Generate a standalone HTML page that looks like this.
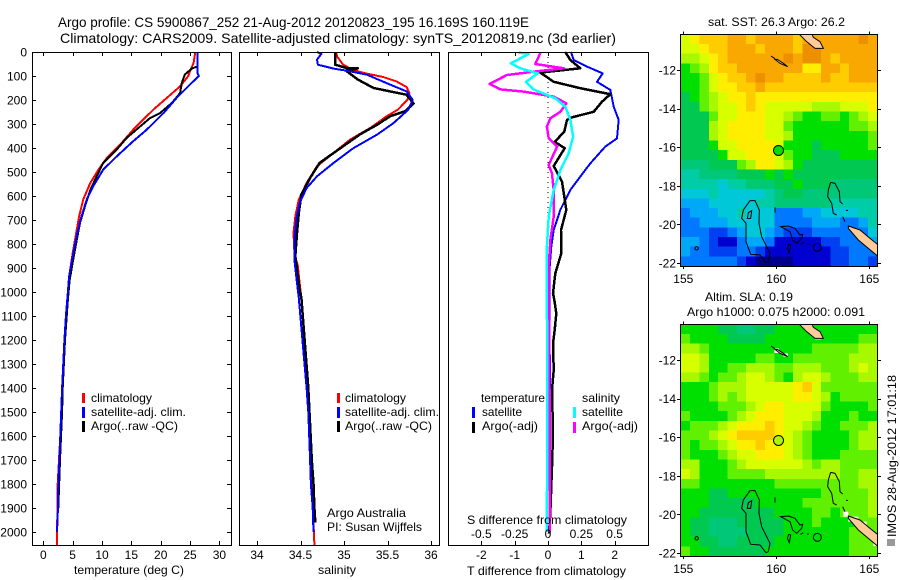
<!DOCTYPE html>
<html lang="en">
<head>
<meta charset="utf-8">
<title>Argo profile 5900867_252</title>
<style>
html,body{margin:0;padding:0;background:#fff;}
#figure{display:block;width:900px;height:580px;}
text{font-family:"Liberation Sans",sans-serif;font-size:12px;fill:#000;}
.frame{fill:none;stroke:#000;stroke-width:1;shape-rendering:crispEdges;}
.series{fill:none;stroke-linejoin:round;stroke-linecap:butt;shape-rendering:crispEdges;}
.tick{stroke:#000;stroke-width:1;shape-rendering:crispEdges;}
.key{shape-rendering:crispEdges;}
.title{font-size:14px;}
</style>
</head>
<body>
<svg id="figure" xmlns="http://www.w3.org/2000/svg" width="900" height="580" viewBox="0 0 900 580">
  <defs>
    <clipPath id="map-clip"><rect x="62" y="103" width="590" height="695"/></clipPath>
    <g id="coast" clip-path="url(#map-clip)" fill="none" stroke="#000" stroke-width="3">
      <path fill="#ffcc99" d="M415 100L440 125L465 145L490 145L480 125L460 112L455 100Z"/>
      <path fill="#ffcc99" d="M345 178L360 190L383 200L370 190L352 178Z"/>
      <path d="M333 168L345 176"/>
      <path d="M270 602L285 602L298 630L297 670L305 710L330 760L325 785L318 788L300 765L272 763L258 725L258 670L245 655L250 630Z"/>
      <path d="M265 638L275 632L272 655L262 655Z"/>
      <path d="M345 622L345 638"/>
      <path d="M362 680L385 678L405 685L420 705L428 703L425 715L410 730L398 720L390 695Z"/>
      <path d="M386 733L392 735L388 758L382 745Z"/>
      <path d="M422 733L430 728M441 732L446 732"/>
      <circle cx="472" cy="742" r="12"/>
      <path d="M512 547L525 550L538 575L540 605L548 612"/>
      <path d="M512 547L505 570L503 590L515 610L520 640L530 645"/>
      <path d="M558 631L564 631M548 650L555 665"/>
      <path fill="#ffcc99" d="M565 678L600 690L630 715L655 735L655 770L625 745L595 720L565 685Z"/>
      <circle cx="110" cy="745" r="5"/>
    </g>
  </defs>
  <rect x="0" y="0" width="900" height="580" fill="#fff"/>

  <text class="title" x="58" y="27" textLength="471" lengthAdjust="spacingAndGlyphs">Argo profile: CS 5900867_252 21-Aug-2012 20120823_195 16.169S 160.119E</text>
  <text class="title" x="60" y="43" textLength="556" lengthAdjust="spacingAndGlyphs">Climatology: CARS2009. Satellite-adjusted climatology: synTS_20120819.nc (3d earlier)</text>

  <g id="panel-temp"></g>
  <g id="panel-sal"></g>
  <g id="panel-diff"></g>
  <g id="map-sst"></g>
  <g id="map-sla"></g>

  <g>
    <rect class="key" x="82" y="393" width="3" height="10" fill="#f00"/>
    <rect class="key" x="82" y="407" width="3" height="11" fill="#00f"/>
    <rect class="key" x="82" y="421" width="3" height="11" fill="#000"/>
    <text x="91" y="402" textLength="61" lengthAdjust="spacingAndGlyphs">climatology</text>
    <text x="91" y="416" textLength="95" lengthAdjust="spacingAndGlyphs">satellite-adj. clim.</text>
    <text x="91" y="430" textLength="87" lengthAdjust="spacingAndGlyphs">Argo(..raw -QC)</text>
  </g>
  <g>
    <rect class="key" x="337" y="393" width="3" height="10" fill="#f00"/>
    <rect class="key" x="337" y="407" width="3" height="11" fill="#00f"/>
    <rect class="key" x="337" y="421" width="3" height="11" fill="#000"/>
    <text x="345" y="402" textLength="61" lengthAdjust="spacingAndGlyphs">climatology</text>
    <text x="345" y="416" textLength="94" lengthAdjust="spacingAndGlyphs">satellite-adj. clim.</text>
    <text x="345" y="430" textLength="87" lengthAdjust="spacingAndGlyphs">Argo(..raw -QC)</text>
    <text x="327" y="517" textLength="79" lengthAdjust="spacingAndGlyphs">Argo Australia</text>
    <text x="327" y="531" textLength="95" lengthAdjust="spacingAndGlyphs">PI: Susan Wijffels</text>
  </g>
  <g>
    <text x="481" y="402" textLength="64" lengthAdjust="spacingAndGlyphs">temperature</text>
    <rect class="key" x="472" y="407" width="3" height="11" fill="#00f"/>
    <rect class="key" x="472" y="422" width="3" height="11" fill="#000"/>
    <text x="482" y="416" textLength="40" lengthAdjust="spacingAndGlyphs">satellite</text>
    <text x="482" y="430" textLength="56" lengthAdjust="spacingAndGlyphs">Argo(-adj)</text>
    <text x="582" y="402" textLength="38" lengthAdjust="spacingAndGlyphs">salinity</text>
    <rect class="key" x="573" y="407" width="3" height="11" fill="#0ff"/>
    <rect class="key" x="573" y="422" width="3" height="11" fill="#f0f"/>
    <text x="582" y="416" textLength="41" lengthAdjust="spacingAndGlyphs">satellite</text>
    <text x="582" y="430" textLength="56" lengthAdjust="spacingAndGlyphs">Argo(-adj)</text>
  </g>

  <text x="74" y="574" textLength="110" lengthAdjust="spacingAndGlyphs">temperature (deg C)</text>
  <text x="318" y="574" textLength="38" lengthAdjust="spacingAndGlyphs">salinity</text>
  <text x="467" y="524" textLength="160" lengthAdjust="spacingAndGlyphs">S difference from climatology</text>
  <text x="467" y="575" textLength="159" lengthAdjust="spacingAndGlyphs">T difference from climatology</text>

  <text x="708" y="26" textLength="137" lengthAdjust="spacingAndGlyphs">sat. SST: 26.3 Argo: 26.2</text>
  <text x="705" y="301" textLength="88" lengthAdjust="spacingAndGlyphs">Altim. SLA: 0.19</text>
  <text x="687" y="316" textLength="178" lengthAdjust="spacingAndGlyphs">Argo h1000: 0.075 h2000: 0.091</text>

  <rect x="887" y="539" width="8" height="7" fill="#999"/>
  <text transform="translate(896,537) rotate(-90)" x="0" y="0" textLength="162" lengthAdjust="spacingAndGlyphs">IMOS 28-Aug-2012 17:01:18</text>
</svg>

<script>
// ---- depth axis ----
const depthTicks = [0,100,200,300,400,500,600,700,800,900,1000,1100,1200,1300,1400,1500,1600,1700,1800,1900,2000];

// ---- temperature panel ----
const tempTicks = [0,5,10,15,20,25,30];
const tempClimDepth = [0,46,74,100,143,192,240,282,324,386,442,490,546,615,685,754,837,921,1025,1200,1400,1600,1800,2000,2054];
const tempClimValue = [25.9,25.6,25.1,24.7,23.3,21.0,18.75,17.0,15.3,13.1,10.8,9.4,8.0,6.8,6.1,5.6,5.0,4.5,4.1,3.6,3.2,2.9,2.45,2.35,2.35];
const tempArgoDepth = [0,60,69,94,129,171,212,254,275,310,358,407,462,518,574,643,712,782,865,949,1025,1200,1400,1500,1700,1900];
const tempArgoValue = [26.25,26.25,25.3,24.1,23.6,23.3,21.9,19.9,18.2,16.5,14.2,12.5,10.2,9.1,8.0,7.1,6.25,5.7,5.1,4.5,4.2,3.7,3.3,3.2,2.85,2.55];
const tempSatDepth = [0,88,99,150,192,254,324,372,435,490,560,615,685,754,851,935,1025,1100,1200,1300,1400,1500,1600,1700,1800,1900,1950,2000];
const tempSatValue = [26.25,26.25,26.5,24.4,22.7,20.5,17.6,15.3,12.5,10.2,8.5,7.4,6.5,5.8,5.0,4.4,4.1,3.85,3.6,3.4,3.2,3.05,2.9,2.75,2.55,2.5,2.4,2.35];

// ---- salinity panel ----
const salTicks = [34,34.5,35,35.5,36];
const salTickLabels = ['34','34.5','35','35.5','36'];
const salClimDepth = [0,18,53,76,90,104,122,146,171,199,240,268,317,365,421,476,546,615,685,754,837,893,962,1025,1400,1700,2054];
const salClimValue = [34.91,34.92,34.99,35.11,35.26,35.45,35.6,35.72,35.75,35.73,35.62,35.49,35.3,35.07,34.88,34.69,34.57,34.48,34.44,34.42,34.43,34.47,34.49,34.51,34.58,34.62,34.66];
const salArgoDepth = [0,53,67,68,80,115,150,164,178,215,247,268,303,344,393,462,525,594,671,754,851,935,990,1025,1400,1700,1800,1900,1960];
const salArgoValue = [34.9,34.9,35.03,35.16,35.03,35.16,35.34,35.53,35.72,35.8,35.7,35.53,35.38,35.18,34.99,34.72,34.61,34.51,34.48,34.46,34.44,34.47,34.49,34.51,34.59,34.63,34.65,34.66,34.67];
const salSatDepth = [0,8,32,53,69,78,94,136,164,199,240,296,344,400,462,518,567,629,699,782,865,962,1025,1400,1500,1600,1700,1800,1900,2000];
const salSatValue = [34.69,34.74,34.69,34.7,34.88,35.03,35.26,35.53,35.72,35.79,35.74,35.57,35.38,35.11,34.88,34.69,34.57,34.49,34.45,34.43,34.43,34.46,34.48,34.57,34.59,34.6,34.61,34.62,34.64,34.65];

// ---- difference panel ----
const tDiffTicks = [-2,-1,0,1,2];
const sDiffTicks = [-0.5,-0.25,0,0.25,0.5];
const sDiffLabels = ['-0.5','-0.25','0','0.25','0.5'];
const diffTSatDepth = [0,33,61,89,124,158,228,283,360,394,464,519,575,658,742,811,894,1005,1400,2000];
const diffTSatValue = [0.69,0.77,1.17,1.64,1.47,1.87,1.97,2.12,2.07,1.72,1.27,0.97,0.67,0.37,0.17,0.1,0.05,0.04,0.06,0.05];
const diffTArgoDepth = [0,33,68,86,124,151,176,207,249,272,283,332,374,401,475,540,658,742,839,922,1005,1033,1089,1158,1214,1325,1408,1589,1728,1922,2006];
const diffTArgoValue = [0.52,0.67,0.97,-0.23,0.17,0.97,1.87,1.62,1.37,0.72,0.57,0.49,0.2,0.5,0.17,0.42,0.55,0.39,0.4,0.22,0.15,0.19,0.25,0.2,0.15,0.17,0.12,0.15,0.12,0.07,0.03];
const diffSArgoDepth = [5,50,68,82,96,133,156,165,186,214,249,276,311,360,394,471,506,575,686,783,894,1033,1200,1500,2000];
const diffSArgoValue = [-0.058,-0.095,0.118,-0.108,-0.308,-0.438,-0.358,-0.183,0.043,0.138,0.093,0.018,-0.008,0.005,0.068,0.005,0.03,0.043,0.043,0.018,0.005,0.005,0.01,0.012,0.012];
const diffSSatDepth = [3,8,47,68,89,124,156,193,228,283,353,422,492,575,686,811,1033,1500,1900,2000];
const diffSSatValue = [-0.22,-0.145,-0.278,-0.208,-0.078,-0.165,-0.108,0.055,0.13,0.168,0.188,0.155,0.093,0.043,0.005,-0.008,-0.008,-0.004,-0.008,-0.008];

// ---- maps ----
const lonTicks = [155,160,165];
const latTicks = [-12,-14,-16,-18,-20,-22];
const floatLon = 160.119;
const floatLat = -16.169;
const sstFloatLevel = 9;
const slaFloatLevel = 11;
const paletteLevels = ['#00008c','#0000d0','#0040f0','#0078ff','#00a8f8','#00c8d8','#00cca8','#00c878','#00c850','#00e000','#60f000','#a8f800','#d8ff00','#ffee00','#ffcc00','#f8a800','#ec9000'];
const sstGrid = [
[12,13,14,14,14,15,15,14,15,15,15,15,14,15,15,15,15,15,15,16,15],
[12,12,13,14,14,15,15,15,14,15,15,15,14,16,16,15,15,15,15,15,15],
[11,11,12,13,14,15,15,15,15,15,15,16,15,16,16,15,14,15,15,15,15],
[9,10,11,13,14,14,15,15,15,15,15,15,15,13,13,15,15,14,15,15,15],
[9,9,10,12,13,14,14,15,16,15,15,14,14,14,14,15,14,14,15,15,15],
[9,9,10,12,13,13,14,14,15,14,14,14,14,14,14,14,14,14,14,14,14],
[8,9,10,11,12,13,13,14,13,13,13,13,13,13,13,13,13,13,13,13,13],
[8,8,10,11,12,12,13,14,13,12,12,12,12,12,11,11,11,12,12,12,13],
[8,8,8,10,12,12,13,13,13,12,12,11,10,9,9,10,10,9,10,11,12],
[8,8,8,11,12,13,13,13,13,12,12,10,9,9,9,9,9,9,10,10,11],
[8,8,8,11,12,13,13,13,13,12,12,11,9,9,9,9,9,9,9,9,10],
[8,8,8,9,12,12,13,13,13,13,12,9,9,9,8,9,9,9,9,9,10],
[8,8,8,8,9,12,12,13,13,13,12,10,9,9,8,8,8,9,9,9,9],
[7,7,7,8,8,8,10,11,13,13,12,11,9,8,8,8,8,8,8,8,8],
[6,6,7,7,7,7,8,8,8,9,8,9,8,8,8,8,8,8,8,8,8],
[6,6,6,6,5,6,6,7,7,7,8,8,9,8,8,8,7,7,7,7,7],
[5,5,5,6,5,5,5,5,5,6,7,8,8,7,7,7,7,7,7,7,7],
[4,4,4,5,5,5,5,5,6,6,7,7,7,7,7,7,6,6,6,6,6],
[3,4,4,4,5,5,6,5,5,5,3,3,3,4,4,5,5,5,5,6,6],
[3,3,4,4,4,5,5,5,5,5,3,3,3,3,4,4,4,3,3,4,6],
[3,3,3,2,2,3,4,5,5,4,3,2,2,2,3,3,3,3,3,3,5],
[4,4,3,2,1,1,3,4,4,3,1,1,1,1,1,2,2,3,3,3,4],
[4,3,3,2,2,2,3,3,2,1,1,1,1,1,1,1,2,2,3,3,3],
[3,3,3,3,3,3,2,1,0,0,0,0,1,1,1,1,2,2,3,3,2]
];
const slaGrid = [
[9,9,9,9,8,8,7,7,8,8,9,9,9,9,9,9,9,9,9,9,9],
[10,9,9,9,9,8,8,8,8,9,9,9,9,9,9,9,9,9,9,10,10],
[11,11,10,9,9,9,9,9,9,9,9,9,9,9,10,10,10,10,10,11,11],
[12,12,11,9,9,9,9,9,10,10,9,9,10,10,10,10,10,10,11,11,11],
[12,12,11,9,9,10,10,11,11,11,10,10,11,11,11,10,10,10,11,12,11],
[11,11,10,9,10,10,11,12,12,11,10,9,11,12,12,11,10,10,10,11,11],
[9,9,9,10,11,11,11,12,12,12,12,12,13,14,12,10,10,10,10,10,10],
[9,9,9,10,11,10,11,12,12,12,12,12,13,13,12,11,9,10,10,10,10],
[9,9,9,9,10,10,10,11,12,13,13,12,12,12,12,10,9,9,9,9,10],
[10,9,9,9,9,10,11,12,13,13,13,12,12,12,11,9,9,9,10,9,9],
[9,10,10,10,11,12,13,13,13,14,13,12,12,11,10,9,9,10,10,10,11],
[10,10,10,11,12,13,14,14,14,14,13,12,11,10,9,9,9,9,10,11,11],
[10,9,10,10,11,12,13,13,14,13,13,12,11,10,9,9,9,9,10,11,11],
[10,9,9,9,10,11,12,12,13,13,13,12,11,10,9,9,9,10,10,10,10],
[11,11,9,9,9,10,11,12,12,12,12,12,12,11,10,11,11,10,10,10,10],
[12,11,9,9,9,10,10,10,10,11,11,11,11,11,11,11,11,10,10,11,11],
[10,10,9,9,9,9,9,9,9,9,10,10,10,10,10,10,10,10,10,11,11],
[9,9,9,8,8,9,9,9,9,9,9,9,9,9,9,10,10,10,10,10,11],
[9,9,9,8,8,8,8,8,9,9,9,9,9,10,10,10,10,10,10,10,11],
[9,9,8,8,8,8,8,8,8,8,9,9,9,9,10,10,9,10,10,10,11],
[9,8,8,7,7,7,8,8,8,8,8,9,9,9,10,9,9,9,9,10,10],
[9,8,8,7,7,7,7,8,8,8,8,9,9,9,9,9,9,9,10,10,10],
[9,9,8,8,7,7,8,8,8,8,9,9,9,9,9,9,9,9,10,10,10],
[10,9,9,8,8,8,8,8,8,9,9,9,9,9,9,9,9,9,10,10,10]
];

const NS = 'http://www.w3.org/2000/svg';
const PANEL_TOP = 52, PANEL_BOTTOM = 545;
const yDepth = d => PANEL_TOP + 0.24 * d;
const xTemp = v => 43.3 + 5.87 * v;
const xSal = v => 257 + 87 * (v - 34);
const xDiffT = v => 548 + 33.33 * v;
const xDiffS = v => 548 + 133.3 * v;

function node(tag, parent) {
  const el = document.createElementNS(NS, tag);
  parent.appendChild(el);
  return el;
}

function drawFrame(parent, x, y, w, h) {
  const el = node('rect', parent);
  
  
  el.setAttribute('class', 'frame');
  el.setAttribute('x', x);
  el.setAttribute('y', y);
  el.setAttribute('width', w);
  el.setAttribute('height', h);
}

function drawTick(parent, x1, y1, x2, y2) {
  const el = node('line', parent);
  
  
  el.setAttribute('class', 'tick');
  el.setAttribute('x1', x1);
  el.setAttribute('y1', y1);
  el.setAttribute('x2', x2);
  el.setAttribute('y2', y2);
}

function drawLabel(parent, x, y, anchor, content) {
  const el = node('text', parent);
  
  
  el.setAttribute('x', x);
  el.setAttribute('y', y);
  el.setAttribute('text-anchor', anchor);
  el.textContent = content;
}

function drawSeries(parent, name, xScale, values, depths, color, width) {
  const el = node('polyline', parent);
  
  
  el.setAttribute('class', 'series');
  el.setAttribute('stroke', color);
  el.setAttribute('stroke-width', width);
  el.setAttribute('points', values.map((v, i) => xScale(v).toFixed(1) + ',' + yDepth(depths[i]).toFixed(1)).join(' '));
}

function drawXTicks(parent, scale, ticks) {
  ticks.forEach(t => {
    const x = Math.round(scale(t)) + 0.5;
    drawTick(parent, x, PANEL_TOP, x, PANEL_TOP + 4);
    drawTick(parent, x, PANEL_BOTTOM, x, PANEL_BOTTOM - 4);
  });
}

// Temperature panel
const pTemp = document.getElementById('panel-temp');
drawSeries(pTemp, 'temperature-climatology-line', xTemp, tempClimValue, tempClimDepth, '#f00', 2);
drawSeries(pTemp, 'temperature-argo-line', xTemp, tempArgoValue, tempArgoDepth, '#000', 2);
drawSeries(pTemp, 'temperature-satellite-line', xTemp, tempSatValue, tempSatDepth, '#00f', 2);
drawFrame(pTemp, 32.5, 52.5, 199, 493);
drawXTicks(pTemp, xTemp, tempTicks);
tempTicks.forEach(t => drawLabel(pTemp, xTemp(t), 559, 'middle', String(t)));
depthTicks.forEach(d => {
  const y = Math.round(yDepth(d)) + 0.5;
  drawTick(pTemp, 32, y, 36, y);
  drawTick(pTemp, 231, y, 227, y);
  drawLabel(pTemp, 27, yDepth(d) + 4.5, 'end', String(d));
});

// Salinity panel
const pSal = document.getElementById('panel-sal');
drawSeries(pSal, 'salinity-climatology-line', xSal, salClimValue, salClimDepth, '#f00', 2);
drawSeries(pSal, 'salinity-argo-line', xSal, salArgoValue, salArgoDepth, '#000', 2.5);
drawSeries(pSal, 'salinity-satellite-line', xSal, salSatValue, salSatDepth, '#00f', 2);
drawFrame(pSal, 239.5, 52.5, 200, 493);
drawXTicks(pSal, xSal, salTicks);
salTicks.forEach((t, i) => drawLabel(pSal, xSal(t), 559, 'middle', salTickLabels[i]));

// Difference panel
const pDiff = document.getElementById('panel-diff');
const zeroLine = node('line', pDiff);


zeroLine.setAttribute('x1', xDiffT(0));
zeroLine.setAttribute('x2', xDiffT(0));
zeroLine.setAttribute('y1', yDepth(0));
zeroLine.setAttribute('y2', yDepth(700));
zeroLine.setAttribute('stroke', '#000');
zeroLine.setAttribute('stroke-width', 1);
zeroLine.setAttribute('stroke-dasharray', '1 4');
drawSeries(pDiff, 't-difference-satellite-line', xDiffT, diffTSatValue, diffTSatDepth, '#00f', 2);
drawSeries(pDiff, 't-difference-argo-line', xDiffT, diffTArgoValue, diffTArgoDepth, '#000', 2.5);
drawSeries(pDiff, 's-difference-argo-line', xDiffS, diffSArgoValue, diffSArgoDepth, '#f0f', 2.5);
drawSeries(pDiff, 's-difference-satellite-line', xDiffS, diffSSatValue, diffSSatDepth, '#0ff', 2.5);
drawFrame(pDiff, 448.5, 52.5, 200, 493);
drawXTicks(pDiff, xDiffT, tDiffTicks);
tDiffTicks.forEach(t => drawLabel(pDiff, xDiffT(t), 559, 'middle', String(t)));
sDiffTicks.forEach((t, i) => drawLabel(pDiff, xDiffS(t), 538, 'middle', sDiffLabels[i]));

// Maps
function drawMap(group, grid, dy, floatLevel, whiteCells) {
  const X0 = 680.7, X1 = 877.3, Y0 = 34.3 + dy, Y1 = 266 + dy;
  const cw = (X1 - X0) / grid[0].length, ch = (Y1 - Y0) / grid.length;
  const xLon = lon => 683.3 + 18.6 * (lon - 155);
  const yLat = lat => 70 + dy + 19.3 * (-12 - lat);
  grid.forEach((row, r) => row.forEach((level, c) => {
    const cell = node('rect', group);
    
    
    cell.setAttribute('x', (X0 + c * cw).toFixed(2));
    cell.setAttribute('y', (Y0 + r * ch).toFixed(2));
    cell.setAttribute('width', (cw + 0.6).toFixed(2));
    cell.setAttribute('height', (ch + 0.6).toFixed(2));
    cell.setAttribute('fill', paletteLevels[level]);
    cell.setAttribute('shape-rendering', 'crispEdges');
  }));
  const overlay = node('g', group);
  
  
  overlay.setAttribute('transform', 'translate(660,' + dy + ') scale(0.33333)');
  whiteCells.forEach(w => {
    const patch = node('rect', overlay);
    
    
    patch.setAttribute('x', w[0]);
    patch.setAttribute('y', w[1]);
    patch.setAttribute('width', w[2]);
    patch.setAttribute('height', w[3]);
    patch.setAttribute('fill', '#fff');
  });
  const coast = node('use', overlay);
  
  
  coast.setAttribute('href', '#coast');
  const marker = node('circle', group);
  
  
  marker.setAttribute('cx', xLon(floatLon));
  marker.setAttribute('cy', yLat(floatLat));
  marker.setAttribute('r', 5);
  marker.setAttribute('fill', paletteLevels[floatLevel]);
  marker.setAttribute('stroke', '#000');
  marker.setAttribute('stroke-width', 1);
  drawFrame(group, 680.5, Math.round(Y0) + 0.5, 197, Math.round(Y1 - Y0));
  lonTicks.forEach(lon => {
    const x = Math.round(xLon(lon)) + 0.5;
    drawTick(group, x, Y0, x, Y0 - 3);
    drawTick(group, x, Y1, x, Y1 + 3);
    drawLabel(group, xLon(lon), 283 + dy, 'middle', String(lon));
  });
  latTicks.forEach(lat => {
    const y = Math.round(yLat(lat)) + 0.5;
    drawTick(group, 680, y, 677, y);
    drawTick(group, 878, y, 881, y);
    drawLabel(group, 676, yLat(lat) + 4.5, 'end', String(lat));
  });
}
drawMap(document.getElementById('map-sst'), sstGrid, 0, sstFloatLevel, []);
drawMap(document.getElementById('map-sla'), slaGrid, 290, slaFloatLevel, [[343,175,14,14],[370,190,14,10],[465,140,20,8],[550,665,15,15],[565,680,30,15],[605,695,15,15],[640,760,12,8]]);
</script>
</body>
</html>
